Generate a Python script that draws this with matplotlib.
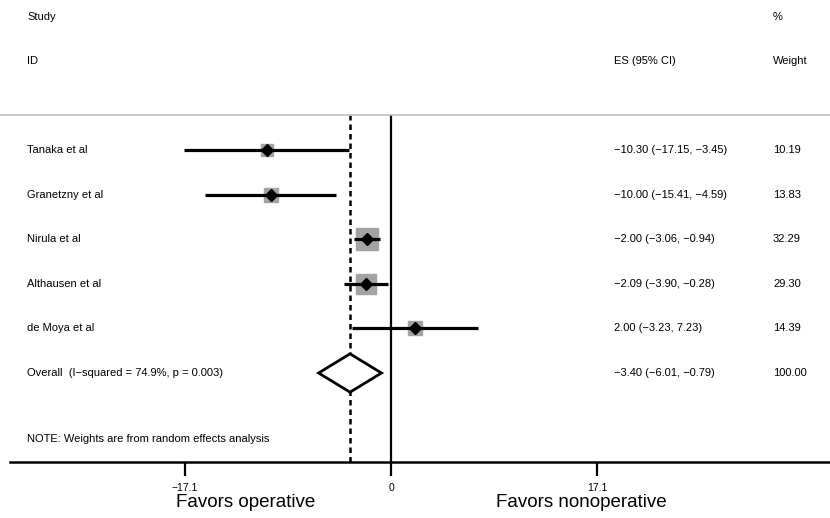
import matplotlib
matplotlib.use("Agg")
import matplotlib.pyplot as plt
from matplotlib.lines import Line2D

plt.rcParams["font.family"] = ["Liberation Sans Narrow", "Liberation Sans", "DejaVu Sans"]

studies = ["Tanaka et al", "Granetzny et al", "Nirula et al", "Althausen et al", "de Moya et al"]
es = [-10.30, -10.00, -2.00, -2.09, 2.00]
lo = [-17.15, -15.41, -3.06, -3.90, -3.23]
hi = [-3.45, -4.59, -0.94, -0.28, 7.23]
weights = [10.19, 13.83, 32.29, 29.30, 14.39]

overall_label = "Overall  (I\u2212squared = 74.9%, p = 0.003)"
overall_es, overall_lo, overall_hi = -3.40, -6.01, -0.79

ticks = [-17.1, 0, 17.1]
tick_labels = ["\u221217.1", "0", "17.1"]


def fmt(v):
    return f"{v:.2f}".replace("-", "\u2212")


W, H = 830, 518
fig = plt.figure(figsize=(W / 100, H / 100), dpi=100)
ax = fig.add_axes([10 / W, 1 - 462 / H, 1 - 10 / W, (462 - 115) / H])

px_per_unit = (597 - 391) / 17.1
ax.set_xlim((10 - 391) / px_per_unit, (830 - 391) / px_per_unit)
row_h = 44.6
ax.set_ylim(1 + (462 - 150) / row_h, 1 - (150 - 115) / row_h)

rows = list(range(1, len(studies) + 1))

# reference lines
ax.axvline(0, color="black", lw=1.6)
ax.axvline(overall_es, color="black", lw=1.8, ls=(0, (2.2, 1.6)))

for y, e, l, h, w in zip(rows, es, lo, hi, weights):
    side = 2.7 * w ** 0.5
    ax.plot(e, y, marker="s", ms=side, color="#a3a3a3", mec="#a3a3a3", zorder=2)
    ax.plot([l, h], [y, y], color="black", lw=2.3, solid_capstyle="butt", zorder=3)
    ax.plot(e, y, marker="D", ms=6, color="black", zorder=4)

# overall diamond
oy = len(studies) + 1
dh = 0.43
ax.fill([overall_lo, overall_es, overall_hi, overall_es, overall_lo],
        [oy, oy - dh, oy, oy + dh, oy], facecolor="white", edgecolor="black", lw=2, zorder=4)

# text columns (x in axes fraction, y in data)
trans = ax.get_yaxis_transform()
fs = 8


def xf(px):
    return (px - 10) / (W - 10)


for y, name, e, l, h, w in zip(rows, studies, es, lo, hi, weights):
    ax.text(xf(27), y, name, transform=trans, fontsize=fs, va="center")
    ax.text(xf(614), y, f"{fmt(e)} ({fmt(l)}, {fmt(h)})", transform=trans,
            fontsize=fs, va="center")
    ax.text(xf(773), y, f"{w:.2f}", transform=trans, fontsize=fs, va="center")

ax.text(xf(27), oy, overall_label, transform=trans, fontsize=fs, va="center")
ax.text(xf(614), oy, f"{fmt(overall_es)} ({fmt(overall_lo)}, {fmt(overall_hi)})",
        transform=trans, fontsize=fs, va="center")
ax.text(xf(773), oy, "100.00", transform=trans, fontsize=fs, va="center")
ax.text(xf(27), 1 + (439 - 150) / row_h, "NOTE: Weights are from random effects analysis",
        transform=trans, fontsize=fs, va="center")

# headers
fig.text(27 / W, 1 - 17 / H, "Study", fontsize=fs, va="center")
fig.text(27 / W, 1 - 61 / H, "ID", fontsize=fs, va="center")
fig.text(614 / W, 1 - 61 / H, "ES (95% CI)", fontsize=fs, va="center")
fig.text(773 / W, 1 - 17 / H, "%", fontsize=fs, va="center")
fig.text(773 / W, 1 - 61 / H, "Weight", fontsize=fs, va="center")

# top gray rule
fig.add_artist(Line2D([0, 1], [1 - 115 / H, 1 - 115 / H], color="#c0c0c0", lw=1.2))

for s in ["top", "left", "right"]:
    ax.spines[s].set_visible(False)
ax.spines["bottom"].set_linewidth(1.8)
ax.set_yticks([])
ax.set_xticks(ticks)
ax.set_xticklabels(tick_labels, fontsize=7.5)
ax.tick_params(axis="x", length=10, width=1.6, pad=5)

fig.text(246 / W, 1 - 507 / H, "Favors operative", fontsize=13.5, ha="center", va="baseline")
fig.text(581 / W, 1 - 507 / H, "Favors nonoperative", fontsize=13.5, ha="center", va="baseline")

fig.savefig("out.png", dpi=100)
